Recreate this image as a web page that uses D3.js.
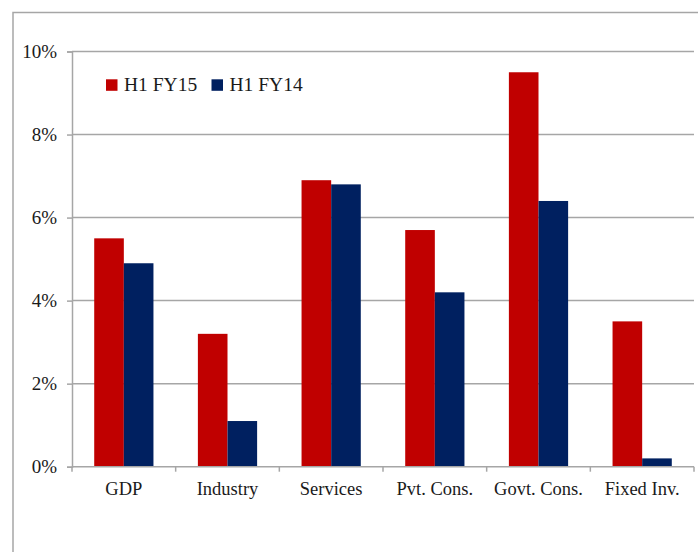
<!DOCTYPE html>
<html>
<head>
<meta charset="utf-8">
<script src="https://d3js.org/d3.v7.min.js"></script>
<style>
  body { margin: 0; background: #fff; }
  text { font-family: "Liberation Serif", "Times New Roman", serif; fill: #1a1a1a; }
</style>
</head>
<body>
<svg id="chart" width="698" height="552"></svg>
<script>
// data (growth, %)
var categories = ["GDP", "Industry", "Services", "Pvt. Cons.", "Govt. Cons.", "Fixed Inv."];
var seriesNames = ["H1 FY15", "H1 FY14"];
var fy15 = [5.5, 3.2, 6.9, 5.7, 9.5, 3.5];
var fy14 = [4.9, 1.1, 6.8, 4.2, 6.4, 0.2];
var yTicks = [0, 2, 4, 6, 8, 10];

var colors = {"H1 FY15": "#c00000", "H1 FY14": "#002060"};
var grey = "#a6a6a6";

var svg = d3.select("#chart");
// plot box (note: "top" is taken by window.top, so use other names)
var plotLeft = 72, plotRight = 694, plotTop = 51.5, plotBottom = 466.7;

// outer frame, runs off the right and bottom edge like the screenshot
svg.append("rect")
  .attr("x", 13).attr("y", 12.5)
  .attr("width", 720).attr("height", 600)
  .attr("fill", "none").attr("stroke", grey).attr("stroke-width", 1.5);

var x0 = d3.scaleBand().domain(categories).range([plotLeft, plotRight]).padding(0);
var x1 = d3.scaleBand().domain(seriesNames).range([0, x0.bandwidth()])
  .paddingInner(0).paddingOuter(0.75);
var y = d3.scaleLinear().domain([0, 10]).range([plotBottom, plotTop]);

// gridlines
svg.append("g").selectAll("line")
  .data(yTicks.filter(function(d) { return d > 0; }))
  .enter().append("line")
  .attr("x1", plotLeft).attr("x2", plotRight)
  .attr("y1", function(d) { return y(d); })
  .attr("y2", function(d) { return y(d); })
  .attr("stroke", grey).attr("stroke-width", 1.5);

// y axis
var yAxis = svg.append("g")
  .attr("transform", "translate(" + plotLeft + ",0)")
  .call(d3.axisLeft(y).tickValues(yTicks).tickSize(5).tickPadding(10)
    .tickFormat(function(d) { return d + "%"; }));
yAxis.attr("font-family", null);
yAxis.select(".domain").attr("stroke", grey).attr("stroke-width", 1.5);
yAxis.selectAll(".tick line").attr("stroke", grey).attr("stroke-width", 1.5);
yAxis.selectAll("text")
  .style("font-size", "19px")
  .style("font-family", "'Liberation Serif', serif")
  .attr("fill", "#1a1a1a");

// bars
var rows = categories.map(function(c, i) {
  return {cat: c, vals: [{s: "H1 FY15", v: fy15[i]}, {s: "H1 FY14", v: fy14[i]}]};
});
var groups = svg.append("g").selectAll("g")
  .data(rows).enter().append("g")
  .attr("transform", function(d) { return "translate(" + x0(d.cat) + ",0)"; });
groups.selectAll("rect")
  .data(function(d) { return d.vals; })
  .enter().append("rect")
  .attr("x", function(d) { return x1(d.s); })
  .attr("width", x1.bandwidth())
  .attr("y", function(d) { return y(d.v); })
  .attr("height", function(d) { return plotBottom - y(d.v); })
  .attr("fill", function(d) { return colors[d.s]; });

// x axis: line, boundary ticks, labels
var xAxis = svg.append("g");
xAxis.append("line")
  .attr("x1", plotLeft).attr("x2", plotRight)
  .attr("y1", plotBottom).attr("y2", plotBottom)
  .attr("stroke", grey).attr("stroke-width", 1.5);
var edges = categories.map(function(c) { return x0(c); }).concat([plotRight]);
xAxis.selectAll(".edge").data(edges).enter().append("line")
  .attr("class", "edge")
  .attr("x1", function(d) { return d; }).attr("x2", function(d) { return d; })
  .attr("y1", plotBottom).attr("y2", plotBottom + 5)
  .attr("stroke", grey).attr("stroke-width", 1.5);
xAxis.selectAll(".lbl").data(categories).enter().append("text")
  .attr("class", "lbl")
  .attr("x", function(d) { return x0(d) + x0.bandwidth() / 2; })
  .attr("y", 494.5)
  .attr("text-anchor", "middle")
  .style("font-size", "18.5px")
  .text(function(d) { return d; });

// legend
var legend = svg.append("g");
var lx = [106, 211.5];
seriesNames.forEach(function(s, i) {
  legend.append("rect")
    .attr("x", lx[i]).attr("y", 79.3).attr("width", 11.5).attr("height", 11.5)
    .attr("fill", colors[s]);
  legend.append("text")
    .attr("x", lx[i] + 18).attr("y", 91)
    .style("font-size", "19.5px")
    .text(s);
});
</script>
</body>
</html>
